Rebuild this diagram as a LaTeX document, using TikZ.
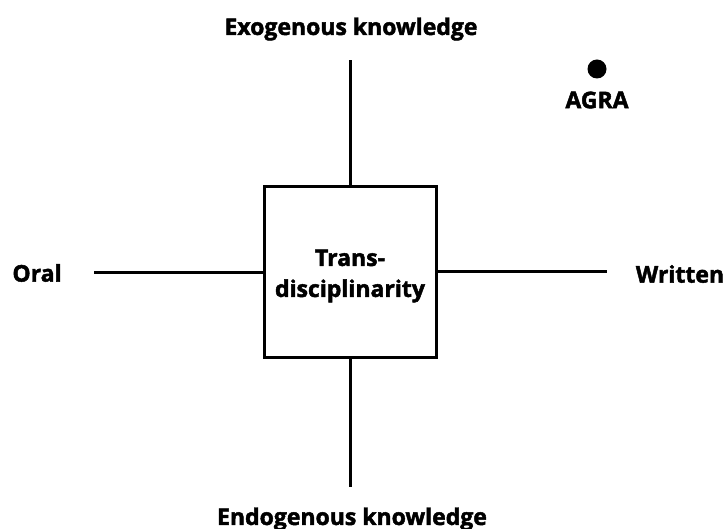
\documentclass[tikz,border=0pt]{standalone}
\usepackage{fontspec}
\setmainfont{Open Sans}
\IfFontExistsTF{Open Sans ExtraBold}{\newfontfamily\heavy{Open Sans ExtraBold}}{\newfontfamily\heavy{Open Sans}[UprightFont=*-Bold,FakeBold=2]}
\begin{document}
\begin{tikzpicture}[x=1pt,y=-1pt,
  lbl/.style={font=\fontsize{23}{26}\heavy, inner sep=0pt},
  axis/.style={line width=3pt},
  centerbox/.style={draw, line width=3pt, minimum width=172pt, minimum height=171pt, inner sep=0pt},
  boxtext/.style={align=center, inner sep=0pt, font=\fontsize{23}{31}\heavy}]
\useasboundingbox (0,0) rectangle (724,529);
\node[centerbox] (box) at (350,272.5) {};
\node[boxtext] (boxlabel) at (350,276) {Trans-\\disciplinarity};
\coordinate (topend) at (350,60);
\coordinate (botend) at (350,487);
\coordinate (leftend) at (94,273);
\coordinate (rightend) at (607,272);
\draw[axis] (box.north) -- (topend);
\draw[axis] (box.south) -- (botend);
\draw[axis] (box.west |- leftend) -- (leftend);
\draw[axis] (box.east |- rightend) -- (rightend);
\node[lbl] (exo) at (351,29) {Exogenous knowledge};
\node[lbl] (endo) at (352,519) {Endogenous knowledge};
\node[lbl] (oral) at (37,273) {Oral};
\node[lbl] (written) at (680,274) {Written};
\fill (597,69) circle (9.5pt) coordinate (dot);
\node[lbl] (agra) at (597,100) {AGRA};
\end{tikzpicture}
\end{document}
